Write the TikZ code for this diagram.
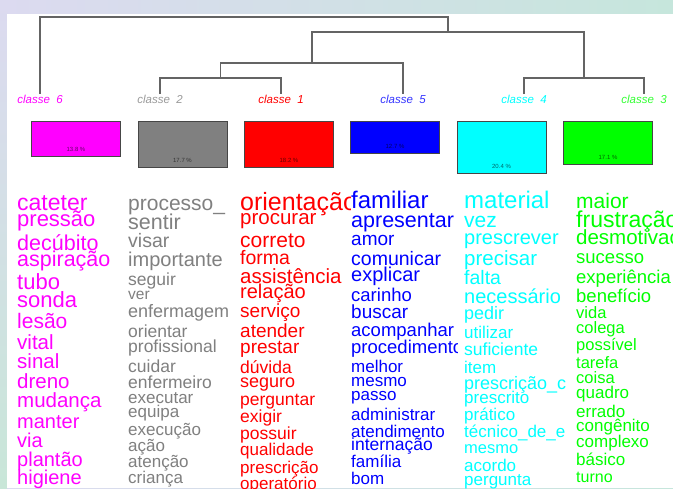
\documentclass[tikz,border=0pt]{standalone}
\usepackage{fontspec}
\setmainfont{Liberation Sans}
\usetikzlibrary{positioning,calc}
\definecolor{lav}{RGB}{220,218,240}
\definecolor{skyb}{RGB}{192,208,232}
\definecolor{mint}{RGB}{198,230,220}
\definecolor{leftlow}{RGB}{200,230,216}
\definecolor{dendro}{RGB}{100,100,100}
\definecolor{boxline}{RGB}{70,70,70}
\definecolor{cmag}{RGB}{255,0,255}
\definecolor{cgry}{RGB}{128,128,128}
\definecolor{cred}{RGB}{255,0,0}
\definecolor{cblu}{RGB}{0,0,255}
\definecolor{ccya}{RGB}{0,255,255}
\definecolor{cgrn}{RGB}{0,255,0}
\begin{document}
\begin{tikzpicture}[x=1pt,y=-1pt]
\tikzset{
    branch/.style={draw=dendro, line width=1.2pt},
    classlabel/.style={font=\fontsize{11.5}{11.5}\selectfont\itshape, inner sep=0pt},
    classbox/.style={draw=boxline, line width=0.9pt, minimum width=89pt, inner sep=0pt, anchor=north},
    pct/.style={font=\fontsize{6}{6}\selectfont, text=black, text opacity=0.6, inner sep=0pt},
    word/.style={anchor=mid west, inner sep=0pt, yshift=-3pt},
    fs/.style={font=\fontsize{#1}{#1}\selectfont}
}
%
\useasboundingbox (0,0) rectangle (673,488);
\shade[left color=lav, middle color=skyb, right color=mint] (0,0) rectangle (673,488);
\shade[top color=lav, bottom color=leftlow] (0,0) rectangle (7,488);
\fill[white] (7,14) rectangle (673,488);

% dendrogram
\coordinate (leaf6) at (40,94);
\coordinate (leaf2) at (160,94);
\coordinate (leaf1) at (281,94);
\coordinate (leaf5) at (403,94);
\coordinate (leaf4) at (524,94);
\coordinate (leaf3) at (644,94);
\coordinate (j21) at (220.5,78);
\coordinate (j215) at (312,63);
\coordinate (j43) at (584,78);
\coordinate (j2154) at (448,32);
\coordinate (root) at (244,17);
\draw[branch] (leaf2) |- (j21) -| (leaf1);
\draw[branch] (j21) |- (j215) -| (leaf5);
\draw[branch] (leaf4) |- (j43) -| (leaf3);
\draw[branch] (j215) |- (j2154) -| (j43);
\draw[branch] (leaf6) |- (root) -| (j2154);

\node[classlabel, text=cmag, below=1pt of leaf6] (lab6) {classe\ \ 6};
\node[classlabel, text=cgry!80, below=1pt of leaf2] (lab2) {classe\ \ 2};
\node[classlabel, text=cred, below=1pt of leaf1] (lab1) {classe\ \ 1};
\node[classlabel, text=cblu!80, below=1pt of leaf5] (lab5) {classe\ \ 5};
\node[classlabel, text=ccya, below=1pt of leaf4] (lab4) {classe\ \ 4};
\node[classlabel, text=cgrn!80!white, below=1pt of leaf3] (lab3) {classe\ \ 3};

% boxes
\node[classbox, fill=cmag, minimum height=35pt] (box6) at (76,121) {};
\node[classbox, fill=cgry, minimum height=46pt] (box2) at (182.5,121) {};
\node[classbox, fill=cred, minimum height=46pt] (box1) at (289,121) {};
\node[classbox, fill=cblu, minimum height=32pt] (box5) at (395,121) {};
\node[classbox, fill=ccya, minimum height=52pt] (box4) at (501.5,121) {};
\node[classbox, fill=cgrn, minimum height=43pt] (box3) at (608,121) {};
\node[pct, above=5pt of box6.south] (pct6) {13.8 \%};
\node[pct, above=5pt of box2.south] (pct2) {17.7 \%};
\node[pct, above=5pt of box1.south] (pct1) {18.2 \%};
\node[pct, above=5pt of box5.south] (pct5) {12.7 \%};
\node[pct, above=5pt of box4.south] (pct4) {20.4 \%};
\node[pct, above=5pt of box3.south] (pct3) {17.1 \%};

% classe 6
\begin{scope}[every node/.style={word, text=cmag}]
\node[fs=23] (mag1) at (17,205) {cateter};
\node[fs=22] (mag2) at (17,221) {pressão};
\node[fs=21.5] (mag3) at (17,245) {decúbito};
\node[fs=21.5] (mag4) at (17,261) {aspiração};
\node[fs=22] (mag5) at (17,284) {tubo};
\node[fs=22] (mag6) at (17,302) {sonda};
\node[fs=21] (mag7) at (17,323) {lesão};
\node[fs=20.5] (mag8) at (17,344) {vital};
\node[fs=20.5] (mag9) at (17,363) {sinal};
\node[fs=20.5] (mag10) at (17,383) {dreno};
\node[fs=20.5] (mag11) at (17,402) {mudança};
\node[fs=20] (mag12) at (17,423) {manter};
\node[fs=20] (mag13) at (17,442) {via};
\node[fs=20] (mag14) at (17,461) {plantão};
\node[fs=20] (mag15) at (17,479) {higiene};
\end{scope}

% classe 2
\begin{scope}[every node/.style={word, text=cgry}]
\node[fs=21] (gry1) at (128,205) {processo\_};
\node[fs=21.5] (gry2) at (128,224) {sentir};
\node[fs=19.5] (gry3) at (128,242) {visar};
\node[fs=20] (gry4) at (128,261) {importante};
\node[fs=17.5] (gry5) at (128,280) {seguir};
\node[fs=15.5] (gry6) at (128,294) {ver};
\node[fs=18] (gry7) at (128,312) {enfermagem};
\node[fs=17.5] (gry8) at (128,332) {orientar};
\node[fs=17.5] (gry9) at (128,347) {profissional};
\node[fs=17.5] (gry10) at (128,367) {cuidar};
\node[fs=17.5] (gry11) at (128,383) {enfermeiro};
\node[fs=17] (gry12) at (128,398) {executar};
\node[fs=17] (gry13) at (128,412) {equipa};
\node[fs=17] (gry14) at (128,430) {execução};
\node[fs=17] (gry15) at (128,446) {ação};
\node[fs=17] (gry16) at (128,462) {atenção};
\node[fs=17] (gry17) at (128,478) {criança};
\end{scope}

% classe 1
\begin{scope}[every node/.style={word, text=cred}]
\clip (236,185) rectangle (350,488);
\node[fs=25] (red1) at (240,205) {orientação};
\node[fs=20.5] (red2) at (240,219) {procurar};
\node[fs=21] (red3) at (240,242) {correto};
\node[fs=19.5] (red4) at (240,259) {forma};
\node[fs=20.5] (red5) at (240,278) {assistência};
\node[fs=20] (red6) at (240,293) {relação};
\node[fs=19] (red7) at (240,312) {serviço};
\node[fs=19] (red8) at (240,332) {atender};
\node[fs=19] (red9) at (240,348) {prestar};
\node[fs=17.5] (red10) at (240,368) {dúvida};
\node[fs=18] (red11) at (240,382) {seguro};
\node[fs=17.5] (red12) at (240,400) {perguntar};
\node[fs=17.5] (red13) at (240,417) {exigir};
\node[fs=17.5] (red14) at (240,434) {possuir};
\node[fs=17] (red15) at (240,450) {qualidade};
\node[fs=17] (red16) at (240,468) {prescrição};
\node[fs=17] (red17) at (240,484) {operatório};
\end{scope}

% classe 5
\begin{scope}[every node/.style={word, text=cblu}]
\clip (348,185) rectangle (457,488);
\node[fs=24] (blu1) at (351,203) {familiar};
\node[fs=21.5] (blu2) at (351,222) {apresentar};
\node[fs=19] (blu3) at (351,240) {amor};
\node[fs=19.5] (blu4) at (351,260) {comunicar};
\node[fs=20] (blu5) at (351,276) {explicar};
\node[fs=18.5] (blu6) at (351,296) {carinho};
\node[fs=19] (blu7) at (351,313) {buscar};
\node[fs=18.5] (blu8) at (351,331) {acompanhar};
\node[fs=18.5] (blu9) at (351,348) {procedimento};
\node[fs=17] (blu10) at (351,367) {melhor};
\node[fs=17] (blu11) at (351,381) {mesmo};
\node[fs=17] (blu12) at (351,395) {passo};
\node[fs=17] (blu13) at (351,415) {administrar};
\node[fs=17] (blu14) at (351,432) {atendimento};
\node[fs=17.5] (blu15) at (351,445) {internação};
\node[fs=17] (blu16) at (351,462) {família};
\node[fs=17] (blu17) at (351,479) {bom};
\end{scope}

% classe 4
\begin{scope}[every node/.style={word, text=ccya}]
\node[fs=24] (cya1) at (464,203) {material};
\node[fs=21] (cya2) at (464,222) {vez};
\node[fs=20] (cya3) at (464,239) {prescrever};
\node[fs=20.5] (cya4) at (464,260) {precisar};
\node[fs=19.5] (cya5) at (464,279) {falta};
\node[fs=20] (cya6) at (464,298) {necessário};
\node[fs=18] (cya7) at (464,314) {pedir};
\node[fs=17] (cya8) at (464,333) {utilizar};
\node[fs=17.5] (cya9) at (464,350) {suficiente};
\node[fs=17] (cya10) at (464,368) {item};
\node[fs=18] (cya11) at (464,384) {prescrição\_c};
\node[fs=17] (cya12) at (464,398) {prescrito};
\node[fs=17] (cya13) at (464,415) {prático};
\node[fs=17] (cya14) at (464,432) {técnico\_de\_e};
\node[fs=16.5] (cya15) at (464,448) {mesmo};
\node[fs=17] (cya16) at (464,466) {acordo};
\node[fs=17] (cya17) at (464,480) {pergunta};
\end{scope}

% classe 3
\begin{scope}[every node/.style={word, text=cgrn}]
\node[fs=21] (grn1) at (576,203) {maior};
\node[fs=23] (grn2) at (576,222) {frustração};
\node[fs=20.5] (grn3) at (576,239) {desmotivação};
\node[fs=18.5] (grn4) at (576,258) {sucesso};
\node[fs=18.5] (grn5) at (576,278) {experiência};
\node[fs=18.5] (grn6) at (576,297) {benefício};
\node[fs=16.5] (grn7) at (576,313) {vida};
\node[fs=16.5] (grn8) at (576,328) {colega};
\node[fs=16.5] (grn9) at (576,345) {possível};
\node[fs=16.5] (grn10) at (576,363) {tarefa};
\node[fs=16.5] (grn11) at (576,378) {coisa};
\node[fs=17] (grn12) at (576,393) {quadro};
\node[fs=17] (grn13) at (576,412) {errado};
\node[fs=17] (grn14) at (576,426) {congênito};
\node[fs=17] (grn15) at (576,442) {complexo};
\node[fs=17] (grn16) at (576,460) {básico};
\node[fs=16] (grn17) at (576,477) {turno};
\end{scope}
\end{tikzpicture}
\end{document}
